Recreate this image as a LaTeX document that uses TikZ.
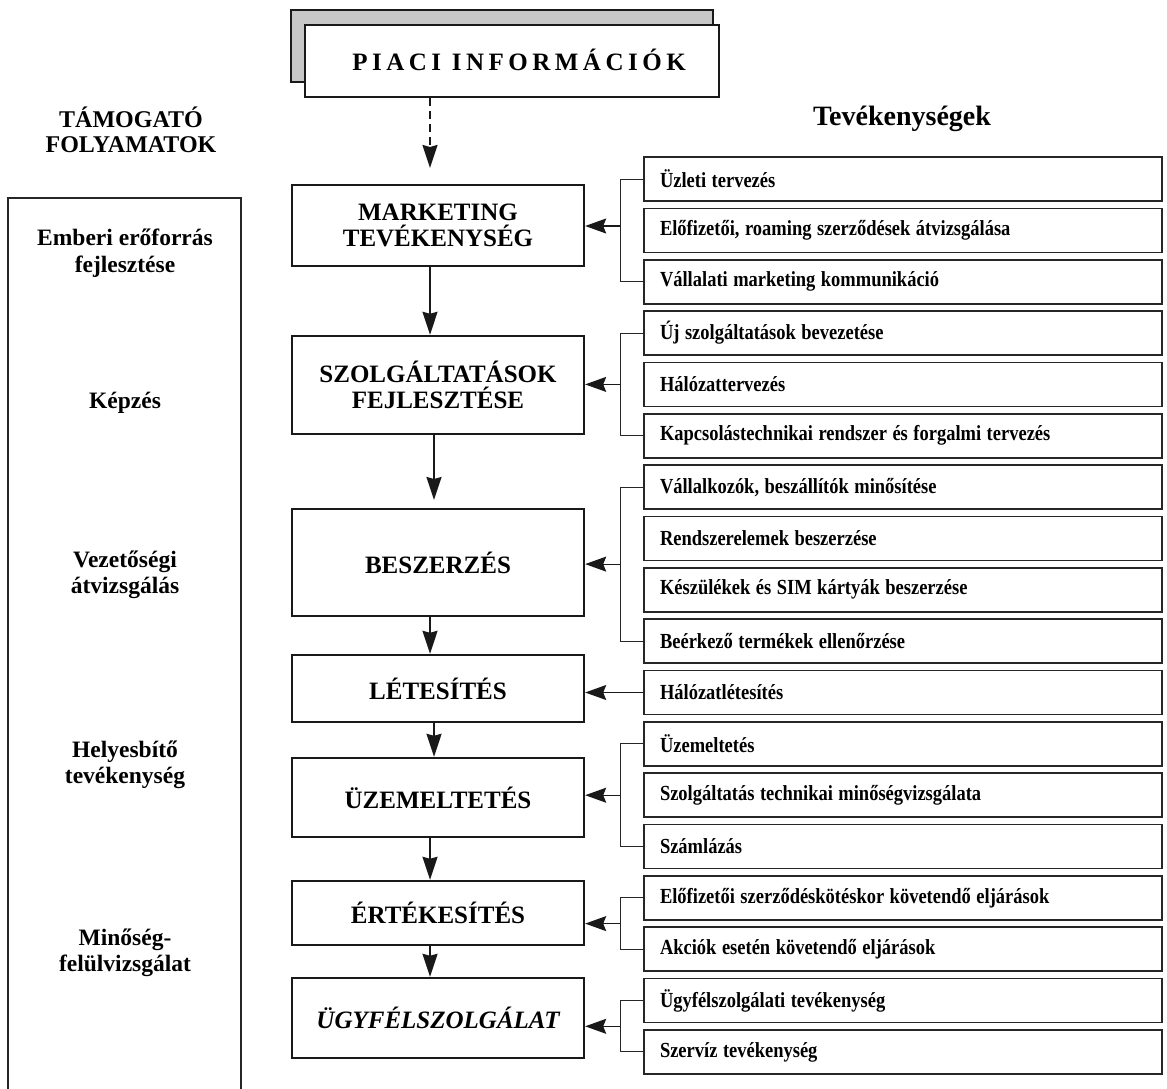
\documentclass[tikz,border=0pt]{standalone}
\usepackage{fontspec}
\setmainfont{Liberation Serif}
\newfontfamily\condfont{Liberation Serif}[FakeStretch=0.86]
\newfontfamily\spacedfont{Liberation Serif}[LetterSpace=18]
\usetikzlibrary{arrows.meta}
\begin{document}
\begin{tikzpicture}[x=1pt,y=-1pt,
  mainbox/.style={draw=black!90, line width=2.4pt, minimum width=292pt, align=center, inner sep=0pt, fill=white,
    font=\bfseries\fontsize{25}{26}\selectfont},
  itembox/.style={draw=black!85, line width=1.6pt, minimum width=518pt, minimum height=44pt, text width=486pt,
    inner xsep=16pt, inner ysep=0pt, align=left, font=\condfont\bfseries\fontsize{21.5}{24}\selectfont,
    execute at begin node={\spaceskip=5.5pt plus 1pt minus 1pt\relax}},
  sidetext/.style={align=center, font=\bfseries\fontsize{23.5}{26.5}\selectfont},
  varr/.style={line width=2pt, draw=black!90, -{Stealth[length=23pt,width=15pt,inset=2pt]}},
  harr/.style={line width=1.2pt, draw=black!90, -{Stealth[length=21pt,width=15pt,inset=3pt]}},
  br/.style={line width=1pt, draw=black!85},
]
\useasboundingbox (0,0) rectangle (1167,1088);
\fill[white] (0,0) rectangle (1167,1088);

% header
\node[draw=black!90, line width=1.6pt, fill=black!22, minimum width=422pt, minimum height=72pt] (pish) at (502,46) {};
\node[draw=black!90, line width=1.8pt, fill=white, minimum width=414pt, minimum height=72pt] (pi) at (512,61) {};
\node[font=\spacedfont\bfseries\fontsize{25}{26}\selectfont] (pilab) at (519,60) {PIACI INFORMÁCIÓK};

\node[font=\bfseries\fontsize{28}{30}\selectfont] (tev) at (902,119) {Tevékenységek};
\node[sidetext, font=\bfseries\fontsize{24}{25}\selectfont] (tam) at (131,130) {TÁMOGATÓ\\FOLYAMATOK};

% left box
\draw[line width=1.3pt, draw=black!85] (8,1090) -- (8,198) -- (241,198) -- (241,1090);
\node[sidetext] (s1) at (125,253) {Emberi erőforrás\\fejlesztése};
\node[sidetext] (s2) at (125,403) {Képzés};
\node[sidetext] (s3) at (125,575) {Vezetőségi\\átvizsgálás};
\node[sidetext] (s4) at (125,765) {Helyesbítő\\tevékenység};
\node[sidetext] (s5) at (125,953) {Minőség-\\felülvizsgálat};

% main boxes
\node[mainbox, minimum height=81pt] (mk) at (438,225.5) {MARKETING\\TEVÉKENYSÉG};
\node[mainbox, minimum height=98pt] (sz) at (438,385) {SZOLGÁLTATÁSOK\\FEJLESZTÉSE};
\node[mainbox, minimum height=107pt] (be) at (438,562.5) {BESZERZÉS};
\node[mainbox, minimum height=67pt] (le) at (438,688.5) {LÉTESÍTÉS};
\node[mainbox, minimum height=79pt] (uz) at (438,797.5) {ÜZEMELTETÉS};
\node[mainbox, minimum height=64pt] (er) at (438,913) {ÉRTÉKESÍTÉS};
\node[mainbox, minimum height=80pt] (ug) at (438,1018) {\itshape ÜGYFÉLSZOLGÁLAT};

% vertical arrows
\coordinate (ax) at (430,0);
\coordinate (ax2) at (434,0);
\coordinate (dtip) at (430,168);
\coordinate (e2) at (434,500);
\draw[varr, dash pattern=on 8pt off 5pt] (pi.south -| dtip) -- (dtip);
\draw[varr] (mk.south -| ax) -- (sz.north -| ax);
\draw[varr] (sz.south -| e2) -- (e2);
\draw[varr] (be.south -| ax) -- (le.north -| ax);
\draw[varr] (le.south -| ax2) -- (uz.north -| ax2);
\draw[varr] (uz.south -| ax) -- (er.north -| ax);
\draw[varr] (er.south -| ax) -- (ug.north -| ax);

% activity items
\node[itembox] (r1) at (903,179) {Üzleti tervezés};
\node[itembox] (r2) at (903,230.35) {Előfizetői, roaming szerződések átvizsgálása};
\node[itembox] (r3) at (903,281.7) {Vállalati marketing kommunikáció};
\node[itembox] (r4) at (903,333.05) {Új szolgáltatások bevezetése};
\node[itembox] (r5) at (903,384.4) {Hálózattervezés};
\node[itembox] (r6) at (903,435.75) {Kapcsolástechnikai rendszer és forgalmi tervezés};
\node[itembox] (r7) at (903,487.1) {Vállalkozók, beszállítók minősítése};
\node[itembox] (r8) at (903,538.45) {Rendszerelemek beszerzése};
\node[itembox] (r9) at (903,589.8) {Készülékek és SIM kártyák beszerzése};
\node[itembox] (r10) at (903,641.15) {Beérkező termékek ellenőrzése};
\node[itembox] (r11) at (903,692.5) {Hálózatlétesítés};
\node[itembox] (r12) at (903,743.85) {Üzemeltetés};
\node[itembox] (r13) at (903,795.2) {Szolgáltatás technikai minőségvizsgálata};
\node[itembox] (r14) at (903,846.55) {Számlázás};
\node[itembox] (r15) at (903,897.9) {Előfizetői szerződéskötéskor követendő eljárások};
\node[itembox] (r16) at (903,949.25) {Akciók esetén követendő eljárások};
\node[itembox] (r17) at (903,1000.6) {Ügyfélszolgálati tevékenység};
\node[itembox] (r18) at (903,1051.95) {Szervíz tevékenység};

% brackets
\coordinate (bx) at (620,0);
\draw[br] (r1.west) -- (r1.west -| bx) -- (r3.west -| bx) -- (r3.west);
\draw[br] (r4.west) -- (r4.west -| bx) -- (r6.west -| bx) -- (r6.west);
\draw[br] (r7.west) -- (r7.west -| bx) -- (r10.west -| bx) -- (r10.west);
\draw[br] (r12.west) -- (r12.west -| bx) -- (r14.west -| bx) -- (r14.west);
\draw[br] (r15.west) -- (r15.west -| bx) -- (r16.west -| bx) -- (r16.west);
\draw[br] (r17.west) -- (r17.west -| bx) -- (r18.west -| bx) -- (r18.west);

\coordinate (g1) at (620,226);
\coordinate (g2) at (620,384.4);
\coordinate (g3) at (620,564.1);
\coordinate (g5) at (620,795.2);
\coordinate (g6) at (620,923.6);
\coordinate (g7) at (620,1026.3);
\draw[harr] (g1) -- (g1 -| mk.east);
\draw[harr] (g2) -- (g2 -| sz.east);
\draw[harr] (g3) -- (g3 -| be.east);
\draw[harr] (r11.west) -- (r11.west -| le.east);
\draw[harr] (g5) -- (g5 -| uz.east);
\draw[harr] (g6) -- (g6 -| er.east);
\draw[harr] (g7) -- (g7 -| ug.east);
\end{tikzpicture}
\end{document}
